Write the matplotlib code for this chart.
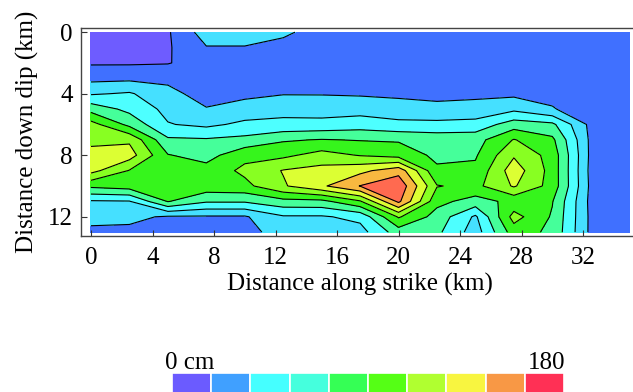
import matplotlib

matplotlib.use("Agg")
import matplotlib.pyplot as plt
import numpy as np

plt.rcParams["font.family"] = ["Liberation Serif", "DejaVu Serif"]

# Fault grid: distance along strike (km) and down dip (km)
strike_km = [0, 2.5, 5, 7.5, 10, 12.5, 15, 17.5, 20, 22.5, 25, 27.5, 30, 32.5, 35]
dip_km = [0, 1, 2, 3, 4, 5, 6, 7, 8, 9, 10, 11, 12, 13]

# Slip (cm), one row per dip depth
slip_cm = [
    [9, 9, 16, 45, 45, 40, 27, 27, 27, 27, 27, 27, 27, 27, 27],
    [9, 9, 16, 35, 35, 29, 27, 27, 27, 27, 27, 27, 27, 27, 27],
    [16, 16, 17, 27, 27, 27, 29, 29, 29, 29, 29, 29, 29, 27, 27],
    [31, 32, 32, 27, 29, 29, 31, 31, 31, 31, 31, 31, 31, 27, 27],
    [52, 56, 41, 29, 32, 35, 35, 34, 32, 32, 33, 32, 32, 27, 27],
    [83, 67, 49, 37, 43, 49, 47, 47, 45, 40, 41, 50, 37, 28, 27],
    [115, 85, 55, 50, 58, 58, 59, 63, 58, 59, 61, 81, 76, 31, 27],
    [123, 123, 75, 74, 77, 88, 91, 89, 88, 83, 83, 109, 94, 32, 27],
    [130, 134, 91, 83, 103, 104, 115, 107, 101, 86, 88, 124, 101, 32, 27],
    [132, 107, 99, 97, 112, 127, 132, 139, 155, 93, 94, 136, 101, 31, 27],
    [94, 99, 99, 101, 103, 124, 141, 162.5, 176, 109, 103, 128, 101, 32, 27],
    [52, 53, 91, 74, 74, 84, 85, 106, 166, 95, 83, 95, 91, 31, 27],
    [43, 40, 34, 34, 34, 52, 52, 59, 110, 83, 51, 115, 88, 32, 27],
    [31, 32, 31, 29, 32, 41, 43, 47, 81, 76, 45, 99, 86, 32, 27],
]

slip_levels = [0, 18, 36, 54, 72, 90, 108, 126, 144, 162, 180]
fill_colors = ["#6e5cff", "#4070ff", "#45e0ff", "#4dffff", "#45ff9a",
               "#36f51c", "#88ff22", "#dcff33", "#f8b840", "#ff6a50"]
bar_colors = ["#6b5bff", "#40a0ff", "#45ffff", "#45ffdd", "#35ff55",
              "#55ff15", "#b0ff30", "#f8f540", "#f89845", "#ff3055"]
x_ticks = [0, 4, 8, 12, 16, 20, 24, 28, 32]
y_ticks = [0, 4, 8, 12]

W, H = 633, 392
FS = 18
fig = plt.figure(figsize=(W / 100, H / 100), dpi=100)

# main slip map
x0, x1 = 81, 638.4
y_top, y_bot = 28, 236
ax = fig.add_axes([x0 / W, 1 - y_bot / H, (x1 - x0) / W, (y_bot - y_top) / H])
X, Y = np.meshgrid(strike_km, dip_km)
Z = np.array(slip_cm, dtype=float)
ax.contourf(X, Y, Z, levels=slip_levels, colors=fill_colors)
ax.contour(X, Y, Z, levels=slip_levels[1:-1], colors="black", linewidths=0.8)

ax.set_xlim(-0.65, 35.6)
ax.set_ylim(13.25, -0.27)
ax.set_xticks(x_ticks)
ax.set_yticks(y_ticks)
ax.tick_params(direction="in", length=4, width=0.8, labelsize=FS, colors="#333333",
               labelcolor="black")
ax.tick_params(axis="x", pad=8)
ax.tick_params(axis="y", pad=6)
for side in ax.spines.values():
    side.set_color("#444444")
    side.set_linewidth(1.0)
ax.set_xlabel("Distance along strike (km)", fontsize=FS, labelpad=3)
ax.set_ylabel("Distance down dip (km)", fontsize=FS, labelpad=6)

# colour key
bx0, bx1 = 172, 564
cax = fig.add_axes([bx0 / W, -4 / H, (bx1 - bx0) / W, 23 / H])
cax.bar(range(len(bar_colors)), [1] * len(bar_colors), width=1.0, align="edge",
        color=bar_colors, edgecolor="white", linewidth=1.2)
cax.set_xlim(0, len(bar_colors))
cax.set_ylim(0, 1)
cax.axis("off")
fig.text(165 / W, 1 - 369 / H, "0 cm", fontsize=FS, ha="left", va="baseline")
fig.text(565 / W, 1 - 369 / H, "180", fontsize=FS, ha="right", va="baseline")

fig.savefig("out.png", dpi=100)
